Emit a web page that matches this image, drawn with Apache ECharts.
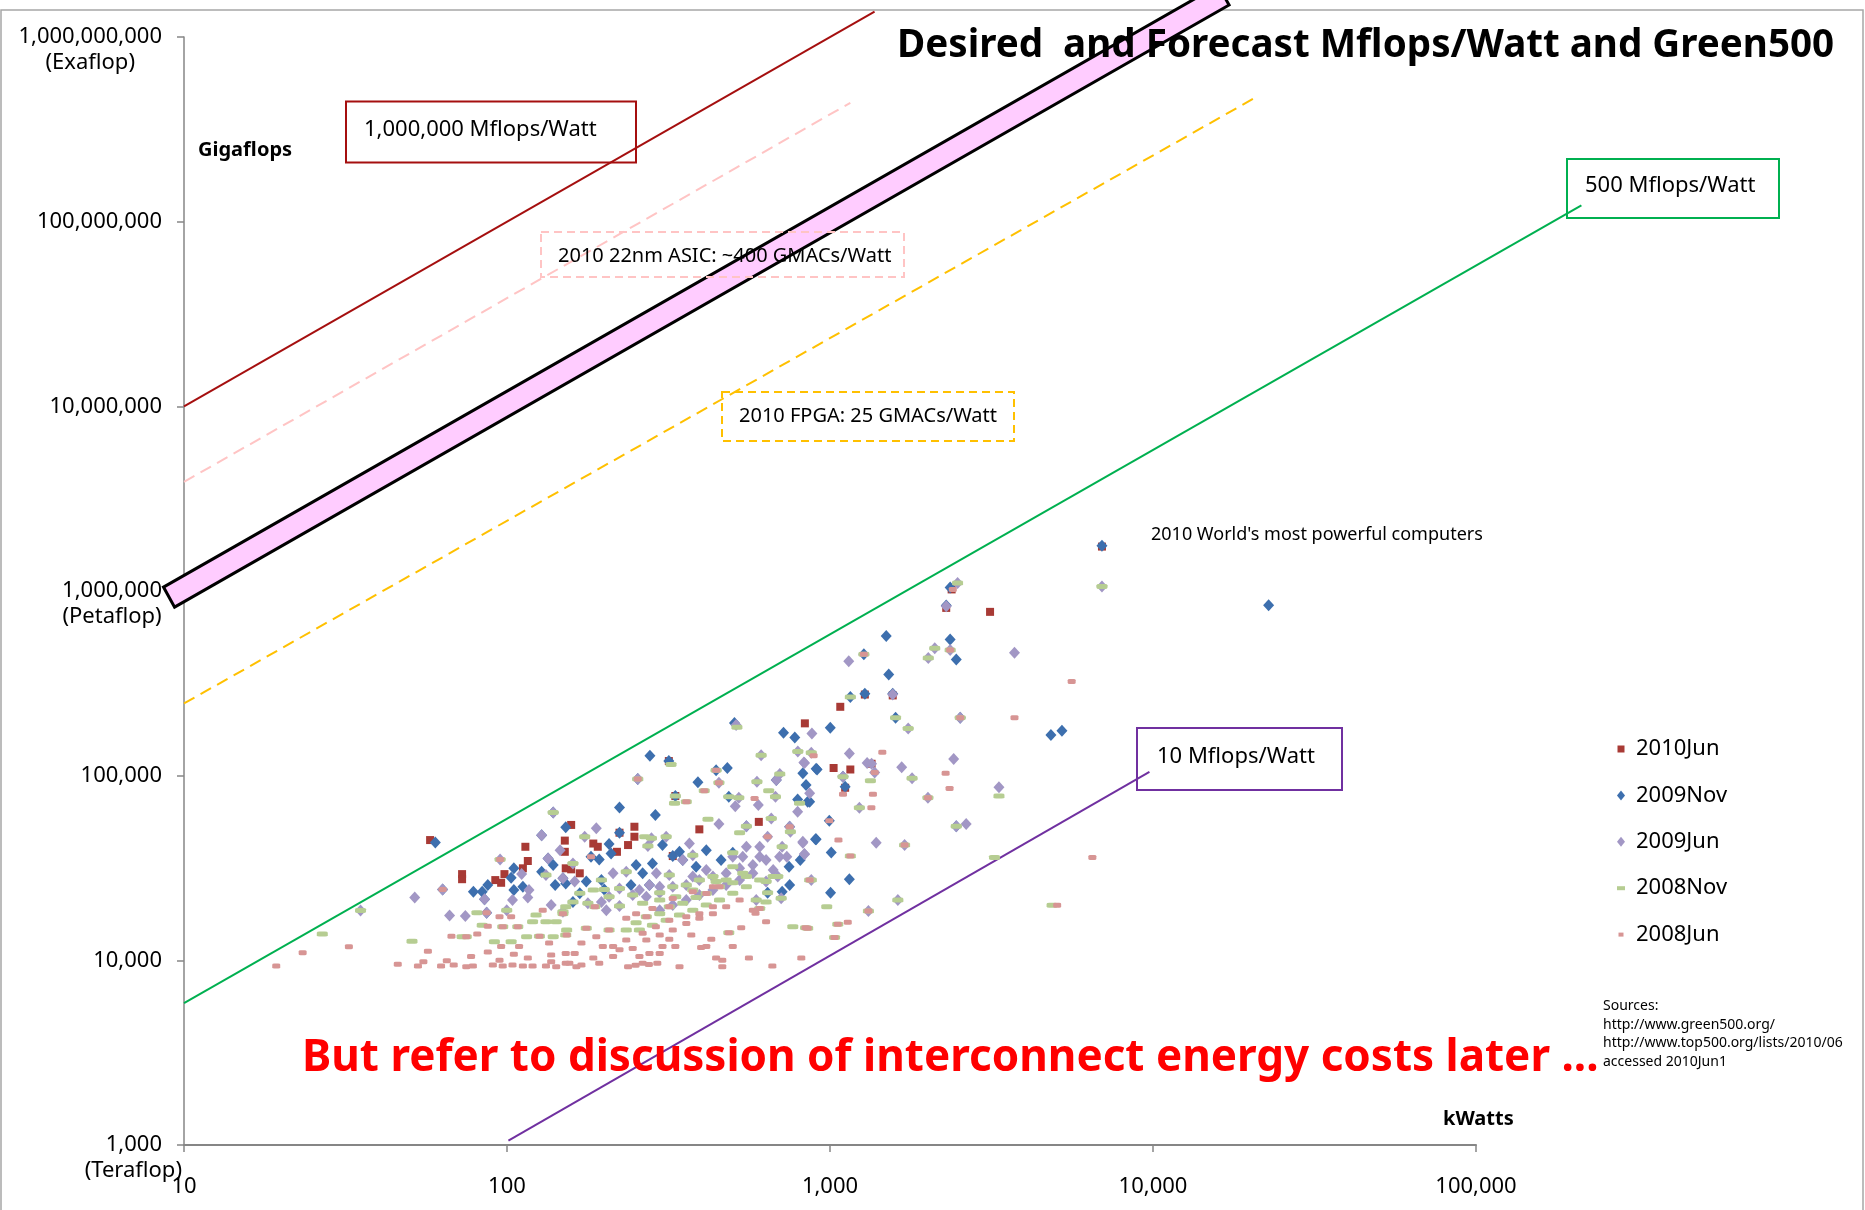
<!DOCTYPE html>
<html><head><meta charset="utf-8">
<script src="https://cdn.jsdelivr.net/npm/echarts/dist/echarts.min.js"></script>
<style>html,body{margin:0;padding:0;background:#fff}#c{width:1865px;height:1210px}</style>
</head><body><div id="c"></div><script>
// ---------- tick labels ----------
const xTickLabels = ['10', '100', '1,000', '10,000', '100,000'];
const yTickLabels = ['1,000', '10,000', '100,000', '1,000,000', '10,000,000', '100,000,000', '1,000,000,000'];
const yTickNotes = ['(Teraflop)', '', '', '(Petaflop)', '', '', '(Exaflop)'];

// ---------- reference lines (kW, Gigaflops) ----------
const line1MflopsW = [[10, 1.0e7], [1374, 1.374e9]];
const lineAsic400 = [[10, 3.9e6], [1156, 4.4e8]];
const lineFpga25 = [[10, 2.46e5], [20650, 4.68e8]];
const line500MflopsW = [[10, 5860], [212000, 1.227e8]];
const line10MflopsW = [[101, 1055], [9750, 104800]];
const desiredBand = [[8.64, 1.05e6], [15900, 1.9e9], [17200, 1.49e9], [9.35, 8.18e5]];

// ---------- scatter series (kW, Gigaflops) ----------
const seriesNames = ['2010Jun', '2009Nov', '2009Jun', '2008Nov', '2008Jun'];
const pts2010Jun = [[6950,1740000],[2380,1020000],[2290,810000],[3130,771000],[1282,275000],[1564,272000],[1076,236000],[836,192000],[1345,116000],[1026,110000],[1156,108000],[1114,86000],[317,120000],[332,77600],[394,51200],[602,56200],[326,36700],[237,42100],[248,46700],[248,52900],[223,49100],[219,38700],[158,54100],[185,42900],[191,41200],[151,38700],[152,31500],[168,29600],[57.8,44800],[72.6,29300],[72.6,27500],[92,27200],[95.9,26300],[98.2,29300],[112,31500],[116,34500],[114,41200],[151,44500],[158,31100]];
const pts2009Nov = [[6950,1759000],[22800,836000],[2355,1045000],[2290,835000],[1493,570000],[2355,547000],[2460,426000],[1273,455000],[1520,353000],[1156,267000],[1282,278000],[1564,278000],[1002,182000],[1596,206000],[2530,206000],[4830,166000],[5225,175000],[912,108000],[1114,87100],[995,57000],[906,45200],[1009,38400],[1148,27500],[1004,23200],[2460,53300],[824,103000],[843,89000],[865,72300],[1097,98600],[506,193000],[718,171000],[778,161000],[277,128000],[317,120000],[906,109000],[254,95900],[444,107000],[481,110000],[390,92000],[332,77600],[486,76900],[682,94700],[794,74400],[853,72300],[223,67300],[288,61200],[551,53300],[750,52900],[902,45200],[747,32100],[809,34900],[750,25600],[711,23500],[641,23200],[500,38300],[460,34900],[414,39500],[385,32100],[350,34900],[326,36700],[342,38700],[276,25600],[263,29600],[251,32800],[282,33500],[303,42100],[223,49100],[207,42700],[210,37900],[152,52500],[182,36400],[193,35200],[176,26700],[149,27800],[196,27200],[200,24200],[168,23100],[160,20700],[242,25600],[60,43400],[63.2,24200],[78.7,23500],[86.5,18100],[83.8,23500],[87.2,25600],[85.2,21400],[105,31500],[103,28000],[105,24000],[128,47600],[139,63100],[134,35600],[139,32800],[128,30200],[112,25000],[141,25600],[152,26100]];
const pts2009Jun = [[6950,1059000],[2483,1105000],[2290,828000],[3725,463000],[2110,489000],[2355,479000],[2015,434000],[1143,416000],[1564,275000],[879,169000],[1746,180000],[2530,206000],[1148,132000],[1303,117000],[1345,116000],[1667,111000],[1795,96800],[2415,123000],[3335,86500],[2010,75900],[1233,67000],[1390,43300],[1702,42100],[875,27200],[1315,18500],[1622,21200],[2460,53300],[2640,54700],[1375,104000],[834,117000],[865,80200],[1097,98600],[824,43900],[834,37500],[512,188000],[612,129000],[795,135000],[875,133000],[830,118000],[254,95900],[453,91600],[522,75900],[509,68400],[600,69300],[594,92700],[699,102000],[682,94700],[678,76900],[794,63800],[453,54700],[658,58700],[551,53300],[750,52900],[641,46700],[754,49700],[824,43300],[711,41200],[698,36400],[833,37700],[689,28400],[634,26700],[706,21700],[591,21200],[223,19700],[203,18700],[245,22600],[270,22100],[297,23200],[326,25000],[359,25600],[394,27200],[434,28400],[477,29600],[525,31500],[577,32800],[606,36400],[537,36400],[376,37100],[350,34900],[367,42900],[318,29000],[290,29600],[297,25000],[276,25600],[257,24000],[273,41600],[280,45800],[311,46700],[189,51900],[174,46700],[160,33500],[162,26700],[149,27800],[213,29600],[234,30200],[223,24500],[178,20400],[196,20700],[207,22100],[51.8,21900],[35.2,18600],[63.2,24200],[66.4,17500],[74.3,17400],[86.5,18100],[85.2,21400],[95.2,35200],[104,21200],[111,29300],[128,47600],[139,63100],[134,35600],[117,24000],[116,21900],[132,29000],[137,19950],[149,18300],[146,39500],[99.8,18700],[376,28400],[414,30800],[500,36400],[551,41200],[606,41200],[634,34900],[577,29600],[525,27200],[477,25600],[434,24000],[394,22600],[359,21200],[326,19950],[297,18700],[667,30800],[735,36400]];
const pts2008Nov = [[6950,1059000],[2483,1105000],[2110,489000],[2355,479000],[2015,434000],[1273,455000],[1156,267000],[1596,206000],[1746,180000],[2530,206000],[1795,96800],[3335,77600],[2010,75900],[1334,94000],[1233,67000],[1156,36700],[1702,42100],[875,27200],[977,19500],[1315,18500],[1622,21200],[3230,36000],[4870,19900],[840,15000],[1057,15700],[1033,13300],[2460,53300],[1097,98600],[515,183000],[322,115000],[612,129000],[795,135000],[875,133000],[254,95900],[444,107000],[453,91600],[408,82800],[332,77600],[359,72300],[330,70800],[486,76900],[522,75900],[594,92700],[646,82800],[699,102000],[678,76900],[805,70800],[419,58000],[658,58700],[551,53300],[525,49100],[754,49700],[711,41200],[865,27200],[689,28400],[634,26700],[706,21700],[641,23200],[634,20700],[591,21200],[606,19100],[767,15200],[853,14900],[486,14100],[207,14600],[234,14600],[251,16000],[270,17200],[297,17900],[318,19500],[350,20400],[385,21900],[414,23000],[455,25000],[500,26300],[551,28400],[153,14600],[176,14900],[149,17900],[152,19500],[187,19500],[223,19700],[245,22600],[297,23200],[326,25000],[359,25600],[394,27200],[434,28400],[500,38300],[376,37100],[318,29000],[273,41600],[280,45800],[311,46700],[267,46700],[174,46700],[160,33500],[196,27200],[234,30200],[223,24500],[200,24200],[185,24000],[168,23100],[160,20700],[178,20400],[207,22100],[35.2,18600],[26.8,13900],[50.8,12700],[72.6,13400],[74.8,13400],[80.7,18100],[83.8,15500],[95.2,35200],[139,63100],[132,29000],[149,18300],[123,17600],[120,16200],[132,16200],[142,16200],[108,15200],[97,15200],[99.8,18700],[115,13400],[126,13500],[139,13400],[152,13700],[103,12600],[91.4,12600],[263,20400],[297,21200],[333,22100],[376,24000],[444,26700],[477,27200],[537,29600],[500,32100],[551,25000],[500,23100],[455,21200],[414,19950],[376,18700],[342,17600],[311,16500],[282,15500],[257,14600],[606,27200],[667,28400]];
const pts2008Jun = [[2400,1020000],[2355,479000],[1273,455000],[5600,324000],[2530,206000],[3725,206000],[1452,134000],[2010,75900],[1097,79200],[1358,79200],[1343,67000],[995,57000],[1156,36700],[1702,42100],[1315,18500],[5050,19900],[6490,36100],[840,15000],[1057,15700],[1135,16100],[1033,13300],[2280,103000],[2345,85300],[1375,104000],[1062,44800],[890,128000],[254,95900],[444,107000],[453,91600],[408,82800],[359,72300],[584,75300],[750,52900],[641,46700],[865,27200],[606,19100],[588,18000],[853,14900],[634,16200],[531,15000],[500,11900],[561,10300],[663,9310],[815,10300],[342,9230],[464,10000],[464,9230],[444,10300],[414,11900],[399,11750],[429,13000],[486,14100],[372,13700],[332,11900],[318,13000],[303,11900],[292,9640],[263,9640],[250,9400],[275,9500],[257,10500],[276,10900],[237,9230],[213,10500],[198,11900],[223,11400],[185,10300],[170,9440],[156,9640],[162,10900],[170,12400],[189,13400],[207,14600],[270,17200],[318,19500],[414,23000],[455,25000],[153,13700],[176,14900],[149,17900],[187,19500],[182,36400],[23.3,11000],[32.4,11850],[19.3,9310],[45.9,9510],[63.2,24200],[56.9,11200],[53,9310],[55.1,9820],[67.3,13500],[62.5,9310],[65.1,9950],[68.4,9440],[74.8,9230],[78.4,9310],[77.4,10500],[74.8,13400],[80.9,13900],[87.2,15300],[86.5,18100],[95.2,35200],[129,18700],[108,15200],[97,15200],[103,17200],[94.8,17200],[126,13500],[135,12400],[109,11900],[95.9,11900],[87.2,11100],[94.8,10000],[90.4,9440],[97,9310],[104,9440],[112,9310],[120,9310],[116,10300],[105,10800],[132,9310],[137,9820],[142,9230],[137,10700],[152,10900],[152,9640],[289,15200],[318,16500],[359,17200],[394,17900],[434,19500],[263,14000],[234,12900],[213,11900],[297,10900],[193,9640],[164,9230],[251,17900],[234,16900],[282,19100],[326,21600],[376,23500],[434,25000],[477,19500],[434,17900],[394,16900],[359,15850],[326,14600],[297,13700],[270,12900],[245,11600],[525,21200],[577,18700]];
const seriesPoints = [pts2010Jun, pts2009Nov, pts2009Jun, pts2008Nov, pts2008Jun];

// ---------- styles ----------
const FONT = 'Noto Sans';
const seriesStyles = [
  {symbol: 'rect', size: [8, 8], color: '#a83a35', icon: 'path://M0,0M10,10M1.5,1.5h7v7h-7z'},
  {symbol: 'diamond', size: [11, 12], color: '#3d6fae', icon: 'path://M0,0M10,10M5,0L9,5L5,10L1,5Z'},
  {symbol: 'diamond', size: [11, 12], color: '#a297c5', icon: 'path://M0,0M10,10M5,0L9,5L5,10L1,5Z'},
  {symbol: 'roundRect', size: [11, 5], color: '#b6cd92', icon: 'path://M0,0M10,10M1,3h8v4h-8z'},
  {symbol: 'roundRect', size: [8, 5], color: '#d79594', icon: 'path://M0,0M10,10M2.5,3h5v4h-5z'}
];
const lineDefs = [
  {data: line1MflopsW, color: '#a50f0f', dash: null},
  {data: lineAsic400, color: '#ffc4c4', dash: [12, 7]},
  {data: lineFpga25, color: '#ffc000', dash: [12, 7]},
  {data: line500MflopsW, color: '#00b050', dash: null},
  {data: line10MflopsW, color: '#7030a0', dash: null}
];

// measure text widths for y-label line centering
const mctx = document.createElement('canvas').getContext('2d');
mctx.font = '22px "' + FONT + '"';
const tw = s => mctx.measureText(s).width;
const yRich = {
  a: {fontSize: 22, fontFamily: FONT, color: '#000', lineHeight: 26, padding: [0, 20, 0, 0]},
  e: {fontSize: 22, fontFamily: FONT, color: '#000', lineHeight: 26}
};
yTickLabels.forEach((lab, i) => {
  if (yTickNotes[i]) {
    yRich['n' + i] = {fontSize: 22, fontFamily: FONT, color: '#000', lineHeight: 26,
      padding: [0, Math.max(0, 20 + (tw(lab) - tw(yTickNotes[i])) / 2), 0, 0]};
  }
});

const series = [];
lineDefs.forEach(l => series.push({
  type: 'custom', coordinateSystem: 'cartesian2d', data: [l.data[0]], clip: false, silent: true, z: 2,
  renderItem: (params, api) => ({
    type: 'polyline',
    shape: {points: l.data.map(p => api.coord(p))},
    style: {stroke: l.color, lineWidth: 2, lineDash: l.dash, fill: null}
  })
}));
series.push({
  type: 'custom', coordinateSystem: 'cartesian2d', data: [desiredBand[0]], clip: false, silent: true, z: 2,
  renderItem: (params, api) => ({
    type: 'polygon',
    shape: {points: desiredBand.map(p => api.coord(p))},
    style: {fill: '#ffccff', stroke: '#000', lineWidth: 3, lineJoin: 'miter'}
  })
});
seriesNames.forEach((n, i) => series.push({
  name: n, type: 'scatter', data: seriesPoints[i], symbol: seriesStyles[i].symbol,
  symbolSize: seriesStyles[i].size, itemStyle: {color: seriesStyles[i].color, opacity: 1},
  silent: true, clip: false, z: 3, animation: false
}));

function txt(text, x, y, size, opts) {
  opts = opts || {};
  return {type: 'text', x: x, y: y, z: 20, silent: true,
    style: Object.assign({text: text, fontSize: size, fontFamily: FONT, fill: '#000',
      verticalAlign: 'middle', align: 'left'}, opts)};
}
function box(x, y, w, h, color, dash) {
  return {type: 'rect', z: 19, silent: true, shape: {x: x, y: y, width: w, height: h},
    style: {fill: 'rgba(0,0,0,0)', stroke: color, lineWidth: 2, lineDash: dash || null}};
}

const chart = echarts.init(document.getElementById('c'), null, {renderer: 'canvas', width: 1865, height: 1210});
chart.setOption({
  animation: false,
  backgroundColor: '#fff',
  title: {
    text: 'Desired  and Forecast Mflops/Watt and Green500', left: 897, top: 27.5, padding: 0,
    textStyle: {fontSize: 38.6, fontWeight: 'bold', fontFamily: FONT, color: '#000', lineHeight: 38}
  },
  grid: {left: 184, top: 37, width: 1292, height: 1108, containLabel: false, outerBoundsMode: 'none'},
  legend: {
    orient: 'vertical', left: 1616, top: 736, padding: 0, itemGap: 20.4, itemWidth: 20, itemHeight: 10,
    symbolKeepAspect: true, selectedMode: false,
    textStyle: {fontSize: 22, fontFamily: FONT, color: '#000', lineHeight: 26},
    data: seriesNames.map((n, i) => ({name: n, icon: seriesStyles[i].icon}))
  },
  xAxis: {
    type: 'log', logBase: 10, min: 10, max: 100000, splitNumber: 4,
    axisLine: {show: true, lineStyle: {color: '#868686', width: 2}},
    axisTick: {show: true, length: 7, lineStyle: {color: '#868686', width: 1.5}},
    splitLine: {show: false}, minorTick: {show: false},
    axisLabel: {show: true, margin: 31, fontSize: 22, fontFamily: FONT, color: '#000',
      showMinLabel: true, showMaxLabel: true, hideOverlap: false,
      formatter: v => xTickLabels[Math.round(Math.log10(v)) - 1] || ''}
  },
  yAxis: {
    type: 'log', logBase: 10, min: 1000, max: 1e9, splitNumber: 6,
    axisLine: {show: true, lineStyle: {color: '#868686', width: 1.5}},
    axisTick: {show: true, length: 7, lineStyle: {color: '#868686', width: 1.5}},
    splitLine: {show: false}, minorTick: {show: false},
    axisLabel: {show: true, margin: 2, align: 'right', showMinLabel: true, showMaxLabel: true, hideOverlap: false,
      rich: yRich,
      formatter: v => {
        const i = Math.round(Math.log10(v)) - 3;
        const lab = yTickLabels[i];
        if (lab === undefined) return '';
        return yTickNotes[i] ? '{e| }\n{a|' + lab + '}\n{n' + i + '|' + yTickNotes[i] + '}' : '{a|' + lab + '}';
      }}
  },
  graphic: [
    {type: 'rect', z: 0, silent: true, shape: {x: 1, y: 10, width: 1862, height: 1230},
      style: {fill: 'rgba(0,0,0,0)', stroke: '#a6a6a6', lineWidth: 1.5}},
    box(346, 101.5, 290, 61, '#a50f0f'),
    txt('1,000,000 Mflops/Watt', 364, 129.5, 22),
    box(541, 232, 363, 45, '#ffc4c4', [8, 5]),
    txt('2010 22nm ASIC: ~400 GMACs/Watt', 558, 256, 20),
    box(722, 392, 292, 49, '#ffc000', [8, 5]),
    txt('2010 FPGA: 25 GMACs/Watt', 739, 416.5, 20),
    box(1567, 159, 212, 59, '#00b050'),
    txt('500 Mflops/Watt', 1585, 186, 22),
    box(1137, 728, 205, 62, '#7030a0'),
    txt('10 Mflops/Watt', 1157, 756.5, 22),
    txt('Gigaflops', 198, 150, 20, {fontWeight: 'bold'}),
    txt('kWatts', 1443, 1119.5, 20, {fontWeight: 'bold'}),
    txt("2010 World's most powerful computers", 1151, 534.5, 18),
    txt('But refer to discussion of interconnect energy costs later ...', 302, 1058, 44, {fontWeight: 'bold', fill: '#ff0000'}),
    txt('Sources:\nhttp://www.green500.org/\nhttp://www.top500.org/lists/2010/06\naccessed 2010Jun1', 1603, 996.8, 14,
      {verticalAlign: 'top', lineHeight: 18.5})
  ],
  series: series
});
</script></body></html>
